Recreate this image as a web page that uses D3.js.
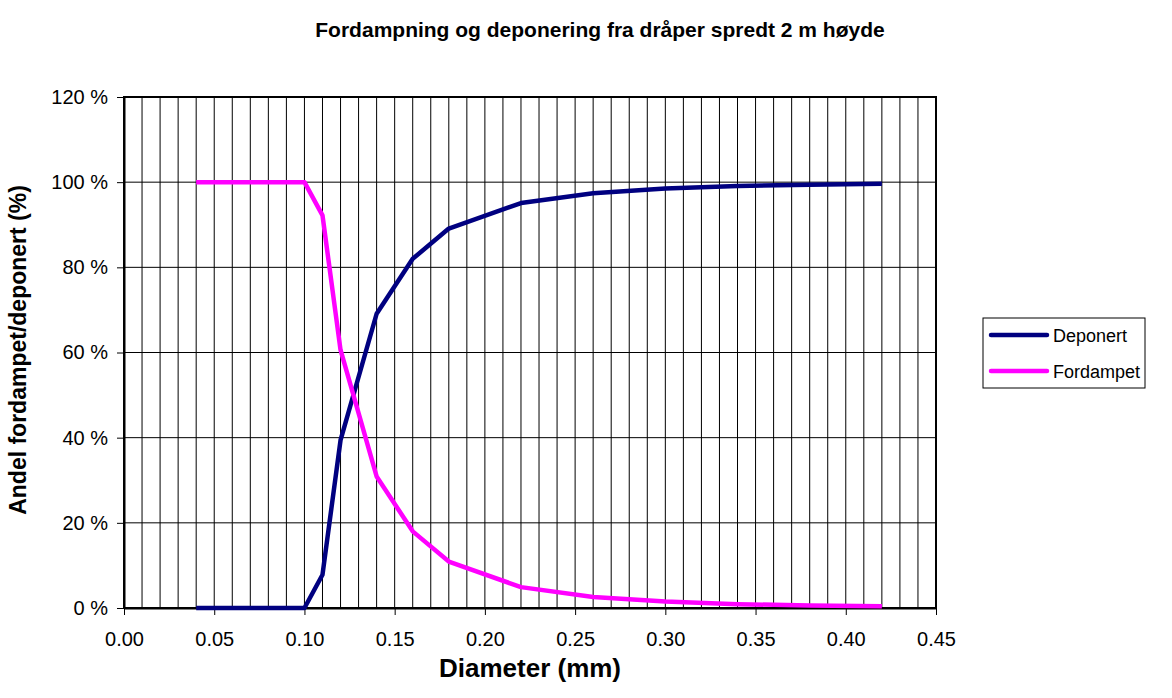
<!DOCTYPE html>
<html>
<head>
<meta charset="utf-8">
<script src="https://cdn.jsdelivr.net/npm/d3@7"></script>
<style>
  html, body { margin: 0; padding: 0; background: #fff; }
  svg { display: block; font-family: Arial, "Liberation Sans", sans-serif; }
</style>
</head>
<body>
<svg id="chart" width="1172" height="698"></svg>
<script>
// Droplet diameter (mm) and share evaporated / deposited (%)
const diameters  = [0.04, 0.06, 0.08, 0.10, 0.11, 0.12, 0.14, 0.16, 0.18, 0.22, 0.26, 0.30, 0.34, 0.38, 0.42];
const deponert   = [0, 0, 0, 0, 7.8, 39.4, 69.1, 82.0, 89.1, 95.1, 97.4, 98.5, 99.1, 99.4, 99.6];
const fordampet  = [100, 100, 100, 100, 92.2, 60.6, 30.9, 18.0, 10.9, 4.9, 2.6, 1.5, 0.9, 0.6, 0.4];
const xTicks     = [0, 0.05, 0.10, 0.15, 0.20, 0.25, 0.30, 0.35, 0.40, 0.45];
const yTicks     = [0, 20, 40, 60, 80, 100, 120];
const seriesNames  = ["Deponert", "Fordampet"];
const seriesColors = ["#000080", "#ff00ff"];

const svg = d3.select("#chart");
const plot = { left: 124, right: 936, top: 97, bottom: 608 };

const x = d3.scaleLinear().domain([0, 0.45]).range([plot.left, plot.right]);
const y = d3.scaleLinear().domain([0, 120]).range([plot.bottom, plot.top]);

// Title
svg.append("text")
  .attr("x", 600).attr("y", 37)
  .attr("text-anchor", "middle")
  .attr("font-size", 21).attr("font-weight", "bold")
  .text("Fordampning og deponering fra dråper spredt 2 m høyde");

// Grid: vertical lines every 0.01, horizontal at each y tick
const g = svg.append("g");
const minor = d3.range(1, 45).map(i => i / 100);
g.selectAll("line.vg").data(minor).join("line")
  .attr("x1", d => x(d)).attr("x2", d => x(d))
  .attr("y1", plot.top).attr("y2", plot.bottom)
  .attr("stroke", "#000").attr("stroke-width", 1);
g.selectAll("line.hg").data(yTicks.slice(1)).join("line")
  .attr("x1", plot.left).attr("x2", plot.right)
  .attr("y1", d => y(d)).attr("y2", d => y(d))
  .attr("stroke", "#000").attr("stroke-width", 1);

// Plot frame
svg.append("rect")
  .attr("x", plot.left).attr("y", plot.top)
  .attr("width", plot.right - plot.left).attr("height", plot.bottom - plot.top)
  .attr("fill", "none").attr("stroke", "#000").attr("stroke-width", 2);

// Axes
const xAxis = d3.axisBottom(x).tickValues(xTicks).tickFormat(d3.format(".2f"))
  .tickSizeInner(7).tickSizeOuter(0).tickPadding(17);
const yAxis = d3.axisLeft(y).tickValues(yTicks).tickFormat(d => d + " %")
  .tickSizeInner(7).tickSizeOuter(0).tickPadding(9);

const gx = svg.append("g").attr("transform", `translate(0,${plot.bottom})`).call(xAxis);
const gy = svg.append("g").attr("transform", `translate(${plot.left},0)`).call(yAxis);
[gx, gy].forEach(a => {
  a.select(".domain").attr("stroke", "#000").attr("stroke-width", 2);
  a.selectAll(".tick line").attr("stroke", "#000").attr("stroke-width", 1);
  a.selectAll(".tick text").attr("font-size", 20).attr("fill", "#000")
    .attr("font-family", "Arial, 'Liberation Sans', sans-serif");
});

// Axis titles
svg.append("text")
  .attr("x", 530).attr("y", 677)
  .attr("text-anchor", "middle")
  .attr("font-size", 26).attr("font-weight", "bold")
  .text("Diameter (mm)");
svg.append("text")
  .attr("transform", "translate(26,350) rotate(-90)")
  .attr("text-anchor", "middle")
  .attr("font-size", 23).attr("font-weight", "bold")
  .text("Andel fordampet/deponert (%)");

// Series lines
const line = d3.line().x((d, i) => x(diameters[i])).y(d => y(d));
[deponert, fordampet].forEach((vals, k) => {
  svg.append("path")
    .datum(vals)
    .attr("d", line)
    .attr("fill", "none")
    .attr("stroke", seriesColors[k])
    .attr("stroke-width", 4.5)
    .attr("stroke-linejoin", "round");
});

// Legend
const lg = svg.append("g").attr("transform", "translate(983,318)");
lg.append("rect").attr("width", 162).attr("height", 70)
  .attr("fill", "#fff").attr("stroke", "#000").attr("stroke-width", 1);
seriesNames.forEach((name, i) => {
  const cy = 17 + i * 36;
  lg.append("line").attr("x1", 8).attr("x2", 64).attr("y1", cy).attr("y2", cy)
    .attr("stroke", seriesColors[i]).attr("stroke-width", 4.5).attr("stroke-linecap", "round");
  lg.append("text").attr("x", 70).attr("y", cy + 6.5)
    .attr("font-size", 18).text(name);
});
</script>
</body>
</html>
